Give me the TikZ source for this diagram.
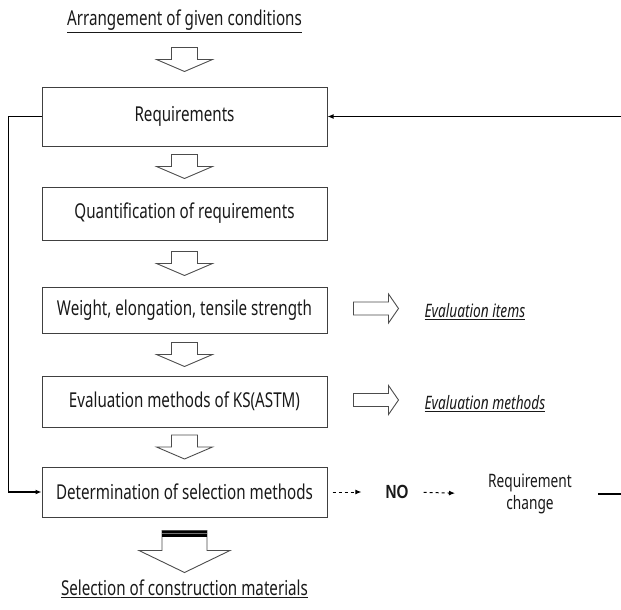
\documentclass[tikz,border=0pt]{standalone}
\usepackage{fontspec}
\setmainfont{Noto Sans}[FakeStretch=0.74]
\newfontfamily\nofont{Liberation Sans}[FakeStretch=0.8]
\usetikzlibrary{arrows.meta,calc}

\newcommand{\hollowdown}[1]{\draw[hollow,shift={(#1)}] (-13,-12) -- (13,-12) -- (13,0) -- (28,0) -- (0,12) -- (-28,0) -- (-13,0) -- cycle;}
\newcommand{\hollowright}[1]{\draw[hollow,shift={(#1)}] (-22.5,-6.5) -- (12.5,-6.5) -- (12.5,-14.5) -- (22.5,0) -- (12.5,14.5) -- (12.5,6.5) -- (-22.5,6.5) -- cycle;}

\begin{document}
\begin{tikzpicture}[x=1pt,y=-1pt,
  procbox/.style={draw=black!75,line width=1pt,minimum width=285pt,text=black!90,font=\fontsize{20.5}{24}\selectfont},
  hollow/.style={draw=black!70,line width=0.9pt,fill=white},
  link/.style={line width=1.3pt,-{Latex[length=6pt,width=5pt]}},
  note/.style={text=black!90,inner sep=0pt,font=\fontsize{18.5}{22}\selectfont}]
\useasboundingbox (0,0) rectangle (621,610);
\clip (0,0) rectangle (621,610);

\node[note,font=\fontsize{20.5}{24}\selectfont] (title) at (184.5,21) {\underline{Arrangement of given conditions}};
\node[procbox,minimum height=59pt] (req) at (184.5,116.5) {Requirements};
\node[procbox,minimum height=53pt] (quant) at (184.5,213.5) {Quantification of requirements};
\node[procbox,minimum height=46pt] (weight) at (184.5,310) {Weight, elongation, tensile strength};
\node[procbox,minimum height=51pt] (evalm) at (184.5,401.5) {Evaluation methods of KS(ASTM)};
\node[procbox,minimum height=50pt] (determ) at (184.5,492) {Determination of selection methods};
\node[note,font=\fontsize{20.5}{24}\selectfont] (select) at (184.5,589) {\underline{Selection of construction materials}};

\foreach \u/\v in {title/req,req/quant,quant/weight,weight/evalm,evalm/determ}
  {\path ($(\u.south)!0.5!(\v.north)$) coordinate (mid); \hollowdown{mid}}

\coordinate (big) at ($(determ.south)+(0,13)$);
\draw[hollow,shift={(big)}] (-22.5,0) -- (22.5,0) -- (22.5,20) -- (45.5,20) -- (0,42) -- (-45.5,20) -- (-22.5,20) -- cycle;
\fill[black,shift={(big)}] (-22.5,0) rectangle (22.5,6.5);
\draw[black!55,line width=0.8pt,shift={(big)}] (-22.5,3.3) -- (22.5,3.3);

\coordinate (itemsarr) at ($(weight.east)+(48.5,-1.5)$);
\hollowright{itemsarr}
\node[note,anchor=west] (items) at ($(weight.east)+(97,2)$) {\underline{\textit{Evaluation items}}};
\coordinate (methodsarr) at ($(evalm.east)+(48.5,-1.5)$);
\hollowright{methodsarr}
\node[note,anchor=west] (methods) at ($(evalm.east)+(97,2)$) {\underline{\textit{Evaluation methods}}};

\node[note,font=\nofont\bfseries\fontsize{19}{22}\selectfont] (no) at (397,492) {NO};
\node[note,align=center] (change) at (530,494) {Requirement\\change};

\draw[link,dashed,line width=1pt,shorten <=5pt,shorten >=24pt] (determ.east) -- (no.west);
\draw[link,dashed,line width=1pt,shorten <=15pt,shorten >=33pt] (no.east) -- (change.west);
\draw[link,shorten <=26pt] (change.east) -- ++(80,0) |- (req.east);
\draw[link] (req.west) -- ++(-33.3,0) |- (determ.west);
\end{tikzpicture}
\end{document}
